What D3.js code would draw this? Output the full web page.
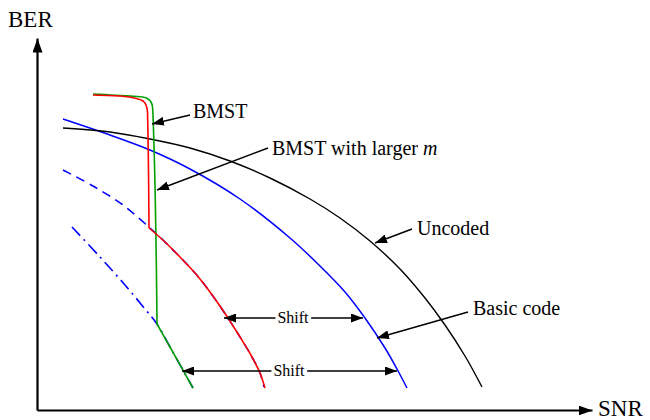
<!DOCTYPE html>
<html>
<head>
<meta charset="utf-8">
<script src="https://cdn.jsdelivr.net/npm/d3@7"></script>
<style>
  body { margin: 0; background: #fff; }
  svg { display: block; }
  svg text { font-family: "Liberation Serif", "Times New Roman", Times, serif; fill: #000; }
</style>
</head>
<body>
<svg id="chart" width="650" height="420"></svg>
<script>
// Schematic BER-vs-SNR curves, in arbitrary units (the axes carry no ticks).
// Each point is [snr, ber] where larger ber sits higher on the plot.
const uncoded = [[2.6,28.2],[7.3,27.8],[11.3,27.1],[15.3,26.2],[19.3,24.9],[23.3,23.2],[27.3,21.1],
                 [30.3,19.2],[33.3,16.9],[36.3,14.1],[38.8,11.2],[40.8,8.5],[42.8,5.4],[44.5,2.3]];
const basicCode = [[2.6,29.1],[7.3,27.5],[11.3,26.0],[15.3,24.1],[20.3,21.1],[25.3,17.2],[28.3,14.4],
                   [30.8,11.8],[32.8,9.2],[34.8,6.2],[36.0,4.1],[37.0,2.2]];
const boundDashed = [[2.6,24.0],[5.6,22.4],[8.6,20.5],[11.3,18.2],[12.8,16.8],[14.3,15.3],[15.8,13.7],
                     [17.3,11.8],[18.9,9.5],[20.3,7.3],[21.5,5.3],[22.3,3.7],[22.7,2.3]];
const boundDashDot = [[3.5,18.3],[6.3,15.3],[8.8,12.5],[10.8,10.1],[12.0,8.6],[13.3,6.3],[15.6,2.2]];
// BMST: flat error floor, steep waterfall, then it rides the dashed bound
const bmst = [[5.6,31.5],[8.3,31.4],[10.1,31.1],[10.6,30.9],[10.9,30.5],[11.05,29.8],[11.2,18.2],
              [12.8,16.8],[14.3,15.3],[15.8,13.7],[17.3,11.8],[18.9,9.5],[20.3,7.3],[21.5,5.3],
              [22.3,3.7],[22.8,2.2]];
const bmstLargerM = [[5.6,31.6],[9.3,31.4],[10.6,31.3],[11.1,31.1],[11.4,30.8],[11.55,30.3],[11.6,29.5],
                     [12.0,8.6],[13.3,6.3],[15.6,2.2]];
// index of the point where each waterfall meets its bound
const bmstKnee = 6, bmstLargerMKnee = 7;

// Callout labels: text anchor, arrow tail and arrow tip
const callouts = [
  { text: "BMST",        at: [15.6, 29.2], from: [15.3, 29.5], to: [11.5, 28.6] },
  { text: "BMST with larger ", italic: "m", at: [23.5, 25.5], from: [23.1, 26.2], to: [12.0, 22.0] },
  { text: "Uncoded",     at: [38.0, 17.5], from: [37.5, 18.1], to: [33.8, 16.7] },
  { text: "Basic code",  at: [43.6, 9.5],  from: [43.1, 9.8],  to: [34.0, 7.2] }
];
// Double-headed "Shift" arrows
const shifts = [
  { ber: 9.2, from: 18.7, to: 32.6, mid: 25.6 },
  { ber: 3.9, from: 14.5, to: 36.0, mid: 25.2 }
];
const axisTitles = { x: "SNR", y: "BER" };

const svg = d3.select("#chart");
const x = d3.scaleLinear().domain([0, 55.5]).range([37, 592]);
const y = d3.scaleLinear().domain([0, 37.2]).range([410, 38]);
const serif = "'Liberation Serif', 'Times New Roman', Times, serif";

const defs = svg.append("defs");
function head(id, len, half) {
  defs.append("marker")
    .attr("id", id)
    .attr("markerUnits", "userSpaceOnUse")
    .attr("viewBox", `0 ${-half} ${len} ${2 * half}`)
    .attr("refX", len).attr("refY", 0)
    .attr("markerWidth", len).attr("markerHeight", 2 * half)
    .attr("orient", "auto-start-reverse")
    .append("path")
    .attr("d", `M0,${-half}L${len},0L0,${half}Z`)
    .attr("fill", "#000");
}
head("axisHead", 14, 5);
head("noteHead", 12, 4.5);

// Curves
const smooth = d3.line().x(d => x(d[0])).y(d => y(d[1])).curve(d3.curveCatmullRom.alpha(0.5));
const steep = d3.line().x(d => x(d[0])).y(d => y(d[1])).curve(d3.curveMonotoneY);

function curve(data, gen, color, width, dash) {
  return svg.append("path").datum(data).attr("d", gen)
    .attr("fill", "none").attr("stroke", color).attr("stroke-width", width)
    .attr("stroke-dasharray", dash || null)
    .attr("stroke-linejoin", "round");
}
curve(boundDashed, smooth, "#0000ff", 1.6, "9,6");
curve(boundDashDot, smooth, "#0000ff", 1.6, "12,5,2,5");
curve(basicCode, smooth, "#0000ff", 1.5);
curve(uncoded, smooth, "#000", 1.4);
// BMST with larger m: waterfall part, then the part on the dash-dot bound
curve(bmstLargerM.slice(0, bmstLargerMKnee + 1), steep, "#00a000", 1.6);
curve(bmstLargerM.slice(bmstLargerMKnee), smooth, "#00a000", 1.6);
// BMST
curve(bmst.slice(0, bmstKnee + 1), steep, "#ff0000", 1.6);
curve(bmst.slice(bmstKnee), smooth, "#ff0000", 1.6);

// Axes with arrowheads, no ticks
const xAxis = svg.append("g").attr("transform", `translate(0,${y(0)})`)
  .call(d3.axisBottom(x).tickValues([]).tickSizeOuter(0));
const yAxis = svg.append("g").attr("transform", `translate(${x(0)},0)`)
  .call(d3.axisLeft(y).tickValues([]).tickSizeOuter(0));
[xAxis, yAxis].forEach(g => g.select(".domain")
  .attr("stroke", "#000").attr("stroke-width", 2.2)
  .attr("marker-end", "url(#axisHead)"));

svg.append("text").attr("x", x(0) + 561).attr("y", y(0) + 6)
  .attr("font-family", serif).attr("font-size", 23).text(axisTitles.x);
svg.append("text").attr("x", 8).attr("y", 27)
  .attr("font-family", serif).attr("font-size", 23).text(axisTitles.y);

// Callouts
callouts.forEach(c => {
  svg.append("line")
    .attr("x1", x(c.from[0])).attr("y1", y(c.from[1]))
    .attr("x2", x(c.to[0])).attr("y2", y(c.to[1]))
    .attr("stroke", "#000").attr("stroke-width", 1.4)
    .attr("marker-end", "url(#noteHead)");
  const t = svg.append("text").attr("x", x(c.at[0])).attr("y", y(c.at[1]))
    .attr("font-family", serif).attr("font-size", 20).attr("xml:space", "preserve");
  t.append("tspan").text(c.text);
  if (c.italic) t.append("tspan").attr("font-style", "italic").text(c.italic);
});

// Shift arrows with a boxed-out label
shifts.forEach(s => {
  svg.append("line")
    .attr("x1", x(s.from)).attr("x2", x(s.to))
    .attr("y1", y(s.ber)).attr("y2", y(s.ber))
    .attr("stroke", "#000").attr("stroke-width", 1.4)
    .attr("marker-start", "url(#noteHead)")
    .attr("marker-end", "url(#noteHead)");
  const g = svg.append("g");
  const t = g.append("text").attr("x", x(s.mid)).attr("y", y(s.ber) + 5)
    .attr("text-anchor", "middle").attr("font-family", serif)
    .attr("font-size", 16).text("Shift");
  const b = t.node().getBBox();
  g.insert("rect", "text").attr("x", b.x - 2).attr("y", b.y)
    .attr("width", b.width + 4).attr("height", b.height).attr("fill", "#fff");
});
</script>
</body>
</html>
